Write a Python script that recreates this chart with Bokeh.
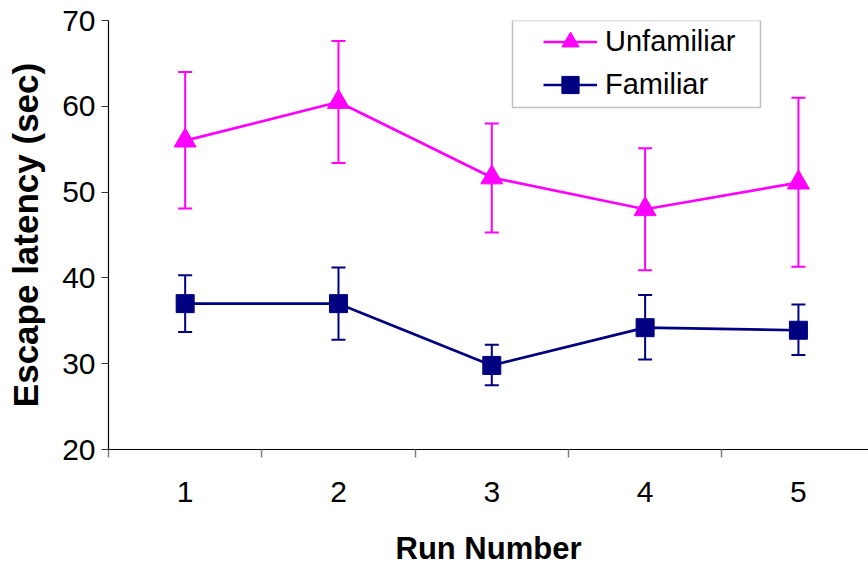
from bokeh.plotting import figure
from bokeh.models import (ColumnDataSource, Whisker, TeeHead, FixedTicker, Legend,
                          LegendItem, BoxAnnotation, Range1d)
from bokeh.embed import file_html
from bokeh.resources import INLINE

runs = [1, 2, 3, 4, 5]
unfamiliar = [56.0, 60.5, 51.7, 48.0, 51.1]
unfamiliar_upper = [64.0, 67.6, 58.0, 55.1, 61.0]
unfamiliar_lower = [48.1, 53.4, 45.3, 40.9, 41.3]
familiar = [37.0, 37.0, 29.8, 34.2, 33.9]
familiar_upper = [40.3, 41.2, 32.2, 38.0, 36.9]
familiar_lower = [33.7, 32.8, 27.5, 30.5, 31.0]
y_ticks = [20, 30, 40, 50, 60, 70]
x_minor = [0.5, 1.5, 2.5, 3.5, 4.5, 5.5]

MAG = "#FF00FF"
NAVY = "#000080"
FONT = "Liberation Sans"

src_u = ColumnDataSource(dict(x=runs, y=unfamiliar, up=unfamiliar_upper, lo=unfamiliar_lower))
src_f = ColumnDataSource(dict(x=runs, y=familiar, up=familiar_upper, lo=familiar_lower))

p = figure(frame_width=760, frame_height=429, output_backend="svg", toolbar_location=None,
           x_range=Range1d(0.5, 5.457), y_range=Range1d(20, 70),
           min_border_left=108, min_border_right=0, min_border_top=20, min_border_bottom=115)
p.outline_line_color = None
p.grid.visible = False
p.background_fill_color = "white"
p.border_fill_color = "white"

# error bars
for src, col in ((src_u, MAG), (src_f, NAVY)):
    w = Whisker(source=src, base="x", upper="up", lower="lo", line_color=col, line_width=2,
                upper_head=TeeHead(size=14, line_color=col, line_width=2),
                lower_head=TeeHead(size=14, line_color=col, line_width=2))
    p.add_layout(w)

lu = p.line("x", "y", source=src_u, line_color=MAG, line_width=2.7)
mu = p.scatter("x", "y", source=src_u, marker="triangle", size=22, fill_color=MAG, line_color=MAG)
lf = p.line("x", "y", source=src_f, line_color=NAVY, line_width=2.7)
mf = p.scatter("x", "y", source=src_f, marker="square", size=18, fill_color=NAVY, line_color=NAVY)

# axes
xa = p.xaxis[0]
xa.ticker = FixedTicker(ticks=runs, minor_ticks=x_minor)
xa.major_tick_out = 0
xa.major_tick_in = 0
xa.minor_tick_out = 8
xa.minor_tick_in = 0
xa.minor_tick_line_color = "#808080"
xa.minor_tick_line_width = 1.5
xa.axis_line_color = "black"
xa.axis_line_width = 1.2
xa.major_label_standoff = 24
xa.major_label_text_font = FONT
xa.major_label_text_font_size = "30px"
xa.major_label_text_color = "black"
xa.axis_label = "Run Number"
xa.axis_label_text_font = FONT
xa.axis_label_text_font_style = "bold"
xa.axis_label_text_font_size = "31px"
xa.axis_label_text_color = "black"
xa.axis_label_standoff = 26

ya = p.yaxis[0]
ya.ticker = FixedTicker(ticks=y_ticks)
ya.minor_tick_line_color = None
ya.major_tick_out = 7
ya.major_tick_in = 0
ya.major_tick_line_color = "#333333"
ya.axis_line_color = "black"
ya.axis_line_width = 1.2
ya.major_label_standoff = 6
ya.major_label_text_font = FONT
ya.major_label_text_font_size = "30px"
ya.major_label_text_color = "black"
ya.axis_label = "Escape latency (sec)"
ya.axis_label_text_font = FONT
ya.axis_label_text_font_style = "bold"
ya.axis_label_text_font_size = "35px"
ya.axis_label_text_color = "black"
ya.axis_label_standoff = 14

# legend
legend = Legend(items=[LegendItem(label="Unfamiliar", renderers=[lu, mu]),
                       LegendItem(label="Familiar", renderers=[lf, mf])],
                location=(435, 343), padding=0, spacing=0, margin=0,
                glyph_width=54, glyph_height=43, label_height=43, label_standoff=8,
                border_line_color=None, background_fill_alpha=0,
                label_text_font=FONT, label_text_font_size="29px", label_text_color="black",
                label_text_baseline="middle")
p.add_layout(legend, "center")

box = BoxAnnotation(left=512, right=760, top=20, bottom=107,
                    left_units="canvas", right_units="canvas", top_units="canvas", bottom_units="canvas",
                    fill_alpha=0, line_color="#333333", line_width=1.5, level="overlay")
p.add_layout(box)

open("out.html", "w").write(file_html(p, INLINE))
